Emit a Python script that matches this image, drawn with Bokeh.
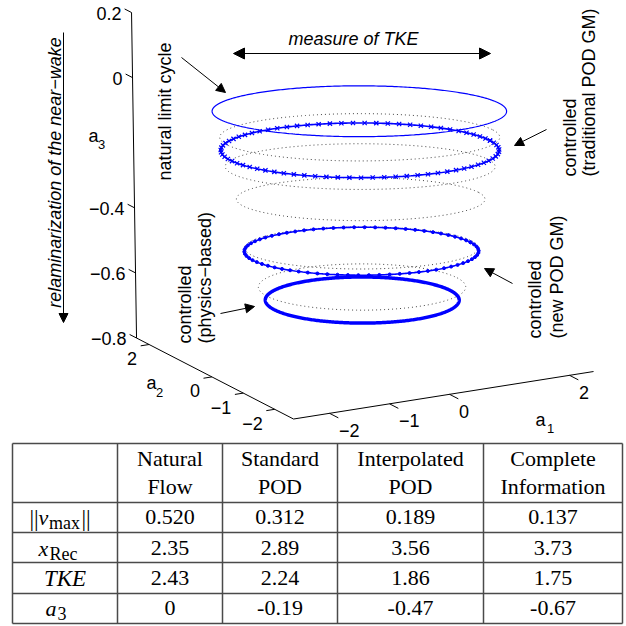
import numpy as np
from bokeh.plotting import figure
from bokeh.models import Range1d, Arrow, NormalHead
from bokeh.core.properties import value
from bokeh.embed import file_html
from bokeh.resources import INLINE

# ---------------- data ----------------
a1_lim = [-2.6, 2.4]
a2_lim = [-2.6, 2.4]
a3_lim = [-0.8, 0.2]
a1_ticks = [-2, -1, 0, 2]
a1_tick_labels = ["−2", "−1", "0", "2"]
a2_ticks = [2, 0, -1, -2]
a2_tick_labels = ["2", "0", "−1", "−2"]
a3_ticks = [0.2, 0.0, -0.4, -0.6, -0.8]
a3_tick_labels = ["0.2", "0", "−0.4", "−0.6", "−0.8"]

# blue trajectories: natural, traditional POD GM, new POD GM, physics-based
blue_a3 = [-0.06, -0.18, -0.49, -0.64]
blue_a1_amp = [1.98, 1.90, 1.61, 1.36]
blue_a2_amp = [1.63, 1.66, 1.43, 1.31]
blue_lag_deg = [114, 108, 106, 99]

# dotted (intermediate) trajectories
dotted_a3 = [-0.14, -0.23, -0.33, -0.48, -0.60]
dotted_a1_amp = [1.88, 1.81, 1.67, 1.58, 1.44]
dotted_a2_amp = [1.53, 1.48, 1.38, 1.32, 1.34]
dotted_lag_deg = [115, 115, 114, 112, 102]
center_a1, center_a2 = -0.06, 0.04

# table
col_head_1 = ["Natural", "Standard", "Interpolated", "Complete"]
col_head_2 = ["Flow", "POD", "POD", "Information"]
v_max = [0.520, 0.312, 0.189, 0.137]
x_rec = [2.35, 2.89, 3.56, 3.73]
tke = [2.43, 2.24, 1.86, 1.75]
a3_mean = [0, -0.19, -0.47, -0.67]

# ---------------- projection ----------------
ORIG = (367.4, 351.7)      # a1=0, a2=0, a3=a3_lim[0]
U = (60.0, -9.5)
V = (-31.4, -16.2)
W = (-5.0, -325.5)


def proj(a1, a2, a3):
    a1 = np.asarray(a1, float)
    a2 = np.asarray(a2, float)
    a3 = np.asarray(a3, float) - a3_lim[0]
    x = ORIG[0] + a1 * U[0] + a2 * V[0] + a3 * W[0]
    y = ORIG[1] + a1 * U[1] + a2 * V[1] + a3 * W[1]
    return x, y


def cycle(a3, A1, A2, lag, n):
    t = np.linspace(0, 2 * np.pi, n)
    a1 = center_a1 + A1 * np.cos(t)
    a2 = center_a2 + A2 * np.cos(t + np.deg2rad(lag))
    return proj(a1, a2, np.full_like(t, a3))


p = figure(width=626, height=626, x_range=Range1d(0, 626), y_range=Range1d(626, 0),
           output_backend="svg", toolbar_location=None, min_border=0,
           x_axis_location=None, y_axis_location=None)
p.grid.visible = False
p.outline_line_color = None

SANS = value("Liberation Sans")
SERIF = value("Liberation Serif")

# ---------------- 3D axes ----------------
ax_col = "black"
x, y = proj(a1_lim, [a2_lim[0]] * 2, [a3_lim[0]] * 2)
p.line(x, y, line_color=ax_col, line_width=1)
x, y = proj([a1_lim[0]] * 2, a2_lim, [a3_lim[0]] * 2)
p.line(x, y, line_color=ax_col, line_width=1)
x, y = proj([a1_lim[0]] * 2, [a2_lim[1]] * 2, a3_lim)
p.line(x, y, line_color=ax_col, line_width=1)

n1 = len(a1_ticks)
x0, y0 = proj(a1_ticks, [a2_lim[0]] * n1, [a3_lim[0]] * n1)
x1, y1 = proj(a1_ticks, [a2_lim[0] - 0.28] * n1, [a3_lim[0]] * n1)
p.segment(x0, y0, x1, y1, line_color=ax_col, line_width=1)
p.text(x0 + 9.5, y0 + 17, text=a1_tick_labels, text_font=SANS, text_font_size="18px",
       text_align="left", text_baseline="middle", text_color="black")

n2 = len(a2_ticks)
x0, y0 = proj([a1_lim[0]] * n2, a2_ticks, [a3_lim[0]] * n2)
x1, y1 = proj([a1_lim[0] - 0.14] * n2, a2_ticks, [a3_lim[0]] * n2)
p.segment(x0, y0, x1, y1, line_color=ax_col, line_width=1)
p.text(x0 - 12, y0 + 14, text=a2_tick_labels, text_font=SANS, text_font_size="18px",
       text_align="right", text_baseline="middle", text_color="black")

n3 = len(a3_ticks)
x0, y0 = proj([a1_lim[0]] * n3, [a2_lim[1]] * n3, a3_ticks)
x1, y1 = proj([a1_lim[0]] * n3, [a2_lim[1] + 0.22] * n3, a3_ticks)
p.segment(x0, y0, x1, y1, line_color=ax_col, line_width=1)
p.text(x0 - 10, y0 + 0.5, text=a3_tick_labels, text_font=SANS, text_font_size="18px",
       text_align="right", text_baseline="middle", text_color="black")

# axis names
p.text([540, 151, 93], [419, 382, 135], text=["a", "a", "a"], text_font=SANS,
       text_font_size="18px", text_align="center", text_baseline="middle")
p.text([550, 159, 101], [428, 392, 144], text=["1", "2", "3"], text_font=SANS,
       text_font_size="13px", text_align="center", text_baseline="middle")

# ---------------- trajectories ----------------
for a3, A1, A2, lag in zip(dotted_a3, dotted_a1_amp, dotted_a2_amp, dotted_lag_deg):
    x, y = cycle(a3, A1, A2, lag, 400)
    p.line(x, y, line_color="#444444", line_width=1, line_dash="1 3")

blue = "#0000ff"
# natural limit cycle
x, y = cycle(blue_a3[0], blue_a1_amp[0], blue_a2_amp[0], blue_lag_deg[0], 400)
p.line(x, y, line_color=blue, line_width=1.2)
# traditional POD GM (x markers)
x, y = cycle(blue_a3[1], blue_a1_amp[1], blue_a2_amp[1], blue_lag_deg[1], 400)
p.line(x, y, line_color=blue, line_width=1.6)
x, y = cycle(blue_a3[1], blue_a1_amp[1], blue_a2_amp[1], blue_lag_deg[1], 76)
p.scatter(x, y, marker="x", size=6, line_color=blue, line_width=1.2)
# new POD GM (dots)
x, y = cycle(blue_a3[2], blue_a1_amp[2], blue_a2_amp[2], blue_lag_deg[2], 400)
p.line(x, y, line_color=blue, line_width=1.6)
x, y = cycle(blue_a3[2], blue_a1_amp[2], blue_a2_amp[2], blue_lag_deg[2], 71)
p.scatter(x, y, marker="circle", size=3, line_color=blue, fill_color=blue)
# physics-based (thick)
x, y = cycle(blue_a3[3], blue_a1_amp[3], blue_a2_amp[3], blue_lag_deg[3], 400)
p.line(x, y, line_color=blue, line_width=3.5)

# ---------------- annotations ----------------
def arrow(xs, ys, xe, ye, both=False, size=10):
    p.add_layout(Arrow(end=NormalHead(size=size, fill_color="black", line_color="black", line_width=1),
                       start=(NormalHead(size=size, fill_color="black", line_color="black", line_width=1)
                              if both else None),
                       x_start=xs, y_start=ys, x_end=xe, y_end=ye,
                       line_color="black", line_width=1))


arrow(233, 53, 490, 53, both=True, size=11)
arrow(63, 32, 63, 322, size=9)
arrow(181, 57, 225, 92, size=9)
arrow(546, 129, 514, 145, size=9)
arrow(512, 283, 484, 268, size=9)
arrow(220, 313, 254, 306, size=9)

p.text([353], [38], text=["measure of TKE"], text_font=SANS, text_font_size="18px",
       text_font_style="italic", text_align="center", text_baseline="middle")
p.text([54], [172], text=["relaminarization of the near−wake"], text_font=SANS,
       text_font_size="18px", text_font_style="italic", text_align="center",
       text_baseline="middle", angle=np.pi / 2)
p.text([164], [111], text=["natural limit cycle"], text_font=SANS, text_font_size="18px",
       text_align="center", text_baseline="middle", angle=np.pi / 2)
p.text([569, 588], [176, 176], text=["controlled", "(traditional POD GM)"], text_font=SANS,
       text_font_size="18px", text_align="left", text_baseline="middle", angle=np.pi / 2)
p.text([534, 556], [338, 338], text=["controlled", "(new POD GM)"], text_font=SANS,
       text_font_size="18px", text_align="left", text_baseline="middle", angle=np.pi / 2)
p.text([184, 204], [343, 343], text=["controlled", "(physics−based)"], text_font=SANS,
       text_font_size="18px", text_align="left", text_baseline="middle", angle=np.pi / 2)

# ---------------- table ----------------
col_x = [12, 117, 222, 337, 483, 622]
row_y = [443, 502, 532, 562, 593, 623]
tcol = "#4a4a4a"
p.segment([col_x[0]] * len(row_y), row_y, [col_x[-1]] * len(row_y), row_y,
          line_color=tcol, line_width=1.5)
p.segment(col_x, [row_y[0]] * len(col_x), col_x, [row_y[-1]] * len(col_x),
          line_color=tcol, line_width=1.5)

centers = [(col_x[i] + col_x[i + 1]) / 2 for i in range(1, 5)]
tfs = "22px"
MID = 7.4   # baseline -> middle offset for 22px serif
p.text(centers, [465 - MID] * 4, text=col_head_1, text_font=SERIF, text_font_size=tfs,
       text_align="center", text_baseline="middle")
p.text(centers, [493 - MID] * 4, text=col_head_2, text_font=SERIF, text_font_size=tfs,
       text_align="center", text_baseline="middle")


def fmt2(v):
    return "0" if v == 0 else "%.2f" % v


rows = [["%.3f" % v for v in v_max], ["%.2f" % v for v in x_rec],
        ["%.2f" % v for v in tke], [fmt2(v) for v in a3_mean]]
base = [524, 555, 585, 615]
for r, b in zip(rows, base):
    p.text(centers, [b - MID] * 4, text=r, text_font=SERIF, text_font_size=tfs,
           text_align="center", text_baseline="middle")

SUB = 2.0   # middle of 18px subscript placed ~4.5px below the baseline
# row labels (math)
b = base[0]
p.text([29, 81], [b - MID + 1, b - MID + 1], text=["||", "||"], text_font=SERIF,
       text_font_size="23px", text_align="left", text_baseline="middle")
p.text([38], [b - MID], text=["v"], text_font=SERIF, text_font_size=tfs, text_font_style="italic",
       text_align="left", text_baseline="middle")
p.text([48.5], [b - SUB], text=["max"], text_font=SERIF, text_font_size="18px",
       text_align="left", text_baseline="middle")
b = base[1]
p.text([38], [b - MID], text=["x"], text_font=SERIF, text_font_size=tfs, text_font_style="italic",
       text_align="left", text_baseline="middle")
p.text([49], [b - SUB], text=["Rec"], text_font=SERIF, text_font_size="18px",
       text_align="left", text_baseline="middle")
b = base[2]
p.text([64.5], [b - MID], text=["TKE"], text_font=SERIF, text_font_size="23px",
       text_font_style="italic", text_align="center", text_baseline="middle")
b = base[3]
p.text([45], [b - MID], text=["a"], text_font=SERIF, text_font_size=tfs, text_font_style="italic",
       text_align="left", text_baseline="middle")
p.text([57], [b - SUB], text=["3"], text_font=SERIF, text_font_size="18px",
       text_align="left", text_baseline="middle")

open("out.html", "w").write(file_html(p, INLINE))
